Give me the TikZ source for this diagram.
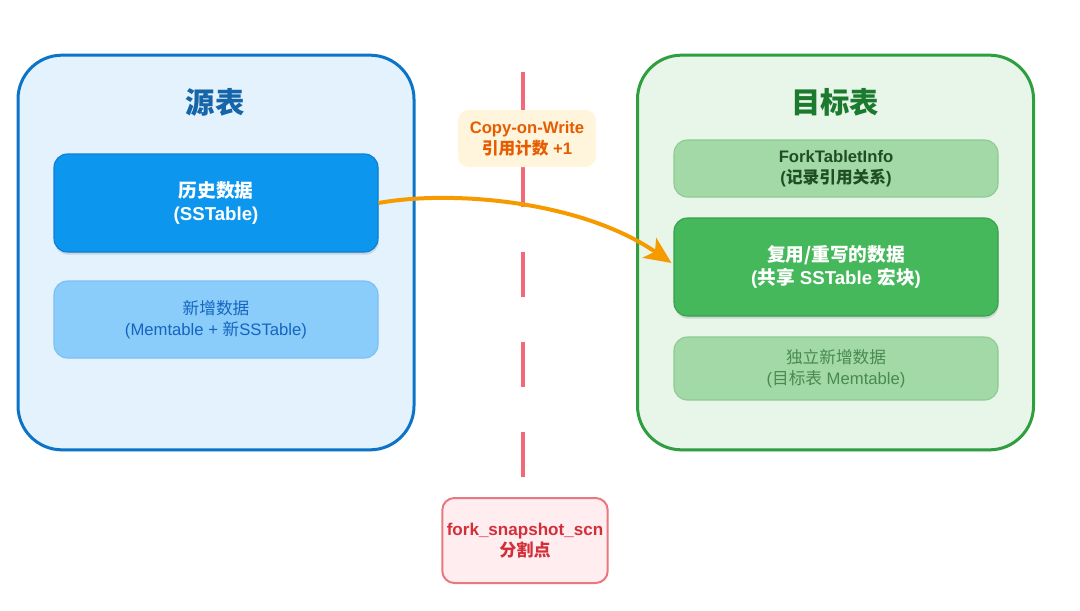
\documentclass[tikz,border=0pt]{standalone}
\usepackage{fontspec}
\setmainfont{Liberation Sans}
\newfontfamily\cjk{Noto Sans CJK SC}
\usetikzlibrary{arrows.meta,shadows}
\definecolor{lborder}{HTML}{0B74C9}
\definecolor{lfill}{HTML}{E3F2FD}
\definecolor{ltitle}{HTML}{1565A8}
\definecolor{histfill}{HTML}{0C96EE}
\definecolor{histborder}{HTML}{0B7FD4}
\definecolor{newfill}{HTML}{8ACDFA}
\definecolor{newborder}{HTML}{7CC0F3}
\definecolor{newtext}{HTML}{1565C0}
\definecolor{rborder}{HTML}{2E9E3E}
\definecolor{rfill}{HTML}{E8F5E9}
\definecolor{rtitle}{HTML}{1B7A2E}
\definecolor{palefill}{HTML}{A2D9A6}
\definecolor{paleborder}{HTML}{8CCB91}
\definecolor{forktext}{HTML}{1F4D24}
\definecolor{indeptext}{HTML}{4A8A50}
\definecolor{reusefill}{HTML}{44B85B}
\definecolor{reuseborder}{HTML}{37A04C}
\definecolor{cutline}{HTML}{F2697A}
\definecolor{cowfill}{HTML}{FFF4DC}
\definecolor{cowtext}{HTML}{E65C00}
\definecolor{forkfill}{HTML}{FFEDEF}
\definecolor{forkborder}{HTML}{E8777F}
\definecolor{forktxt}{HTML}{D32F3A}
\definecolor{arrowc}{HTML}{F59B00}
\tikzset{
  bigbox/.style={draw, line width=2.25pt, rounded corners=33pt, minimum width=297pt, minimum height=296pt, drop shadow={opacity=0.08, shadow xshift=0pt, shadow yshift=-1.5pt}},
  title/.style={font=\cjk\bfseries\fontsize{22}{26}\selectfont},
  inner/.style={draw, line width=0.8pt, rounded corners=10pt, minimum width=243pt, align=center},
  mainfont/.style={font=\bfseries\fontsize{14}{17.5}\selectfont},
  subfont/.style={font=\fontsize{12.5}{15.5}\selectfont},
  subbold/.style={font=\bfseries\fontsize{12.5}{15.5}\selectfont},
  shad/.style={drop shadow={opacity=0.25, shadow xshift=0.5pt, shadow yshift=-2pt}},
}
\begin{document}
\begin{tikzpicture}[x=0.75pt,y=-0.75pt]
\useasboundingbox (0,0) rectangle (1080,610);
% left table
\node[bigbox, draw=lborder, fill=lfill] (src) at (216,252.5) {};
\node[title, text=ltitle] (srct) at (215,102) {源表};
\node[inner, shad, draw=histborder, fill=histfill, text=white, mainfont, minimum height=73.5pt] (hist) at (216,203) {{\cjk 历史数据}\\(SSTable)};
\node[inner, draw=newborder, fill=newfill, text=newtext, subfont, minimum height=57.75pt] (newd) at (216,319.5) {{\cjk 新增数据}\\(Memtable + {\cjk 新}SSTable)};
% right table
\node[bigbox, draw=rborder, fill=rfill] (dst) at (835.5,252.5) {};
\node[title, text=rtitle] (dstt) at (835,102) {目标表};
\node[inner, draw=paleborder, fill=palefill, text=forktext, subbold, minimum height=42.75pt] (fti) at (836,168.5) {ForkTabletInfo\\({\cjk 记录引用关系})};
\node[inner, shad, draw=reuseborder, fill=reusefill, text=white, mainfont, minimum height=73.5pt] (reuse) at (836,267) {{\cjk 复用/重写的数据}\\({\cjk 共享} SSTable {\cjk 宏块})};
\node[inner, draw=paleborder, fill=palefill, text=indeptext, subfont, minimum height=47.25pt] (indep) at (836,368.5) {{\cjk 独立新增数据}\\({\cjk 目标表} Memtable)};
% cut line
\coordinate (ltop) at (523,72);
\coordinate (lbot) at (523,477);
\draw[cutline, line width=3pt, dash pattern=on 33.75pt off 33.75pt] (ltop) -- (lbot);
% fork label
\node[draw=forkborder, fill=forkfill, line width=1.5pt, rounded corners=9pt, minimum width=121.5pt, minimum height=63.75pt, align=center, text=forktxt, font=\bfseries\fontsize{12.8}{16}\selectfont] (fork) at (525,540.5) {fork\_snapshot\_scn\\{\cjk 分割点}};
% arrow
\draw[arrowc, line width=3pt, -{Stealth[length=20pt, width=18pt, inset=5pt]}] (hist.east) .. controls (450,190) and (580,200) .. ([xshift=-1.5pt]reuse.west |- 0,263);
% cow label
\node[fill=cowfill, rounded corners=8pt, minimum width=103.5pt, minimum height=42.75pt, align=center, text=cowtext, font=\bfseries\fontsize{12.5}{15.5}\selectfont] (cow) at (527,138.5) {Copy-on-Write\\{\cjk 引用计数} +1};
\end{tikzpicture}
\end{document}
